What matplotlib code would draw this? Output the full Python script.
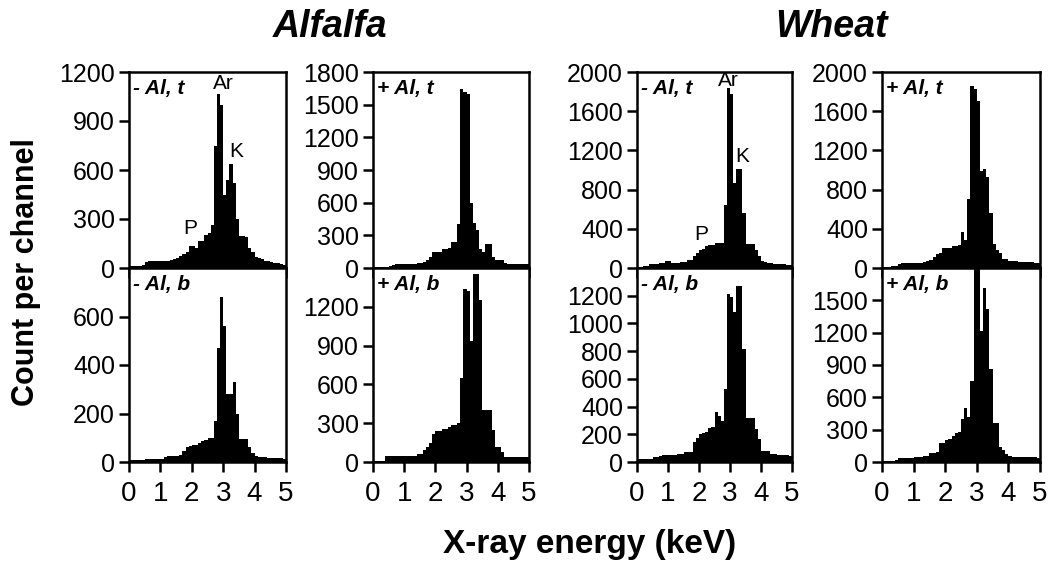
import matplotlib
matplotlib.use('Agg')
import matplotlib.pyplot as plt

plt.rcParams['font.family'] = ['Liberation Sans', 'DejaVu Sans']

# ---- data (bin centres in keV, 0.1 keV channels) ----
energy_keV = [0.05, 0.15, 0.25, 0.35, 0.45, 0.55, 0.65, 0.75, 0.85, 0.95,
              1.05, 1.15, 1.25, 1.35, 1.45, 1.55, 1.65, 1.75, 1.85, 1.95,
              2.05, 2.15, 2.25, 2.35, 2.45, 2.55, 2.65, 2.75, 2.85, 2.95,
              3.05, 3.15, 3.25, 3.35, 3.45, 3.55, 3.65, 3.75, 3.85, 3.95,
              4.05, 4.15, 4.25, 4.35, 4.45, 4.55, 4.65, 4.75, 4.85, 4.95]

alfalfa_minus_t = [15, 15, 15, 15, 20, 35, 40, 40, 40, 40,
                   40, 45, 45, 50, 55, 60, 75, 85, 95, 135,
                   135, 125, 165, 165, 200, 215, 265, 750, 1065, 1000,
                   450, 540, 636, 520, 300, 195, 195, 190, 120, 100,
                   70, 60, 55, 45, 40, 35, 30, 30, 25, 20]
alfalfa_plus_t = [10, 10, 10, 10, 10, 15, 30, 35, 35, 35,
                  35, 35, 35, 40, 45, 50, 55, 70, 100, 150,
                  150, 150, 175, 175, 180, 240, 240, 400, 1645, 1620,
                  1600, 600, 409, 350, 176, 150, 225, 225, 100, 75,
                  75, 75, 45, 40, 40, 40, 40, 40, 40, 40]
wheat_minus_t = [15, 15, 20, 20, 40, 45, 45, 50, 50, 70,
                 70, 55, 55, 55, 60, 60, 85, 85, 120, 155,
                 185, 190, 220, 230, 235, 255, 255, 260, 640, 1836,
                 1780, 870, 1008, 1008, 564, 240, 240, 240, 180, 120,
                 70, 60, 50, 50, 45, 45, 40, 40, 35, 30]
wheat_plus_t = [15, 15, 15, 20, 25, 40, 50, 50, 50, 50,
                50, 55, 55, 60, 75, 80, 110, 145, 150, 200,
                200, 200, 220, 225, 230, 370, 285, 700, 1857, 1830,
                1700, 985, 1010, 930, 560, 250, 181, 150, 96, 96,
                75, 70, 70, 65, 65, 60, 60, 60, 55, 50]
alfalfa_minus_b = [8, 8, 8, 8, 8, 14, 14, 14, 14, 14,
                   14, 20, 24, 24, 24, 24, 28, 44, 60, 65,
                   70, 72, 80, 86, 90, 100, 100, 168, 470, 679,
                   560, 280, 279, 330, 200, 95, 93, 93, 60, 37,
                   25, 22, 20, 20, 18, 18, 15, 15, 15, 12]
alfalfa_plus_b = [8, 8, 8, 8, 46, 46, 46, 46, 46, 46,
                  46, 46, 46, 46, 64, 64, 90, 116, 150, 220,
                  240, 240, 257, 257, 270, 283, 283, 300, 650, 1337,
                  1320, 938, 1452, 1452, 1250, 404, 404, 404, 244, 116,
                  116, 77, 38, 38, 38, 38, 38, 38, 38, 38]
wheat_minus_b = [19, 19, 19, 19, 25, 35, 35, 40, 47, 47,
                 47, 47, 50, 55, 60, 70, 72, 75, 141, 170,
                 205, 210, 215, 247, 250, 364, 330, 294, 530, 1210,
                 1190, 1082, 1271, 1271, 812, 318, 318, 318, 240, 166,
                 82, 82, 82, 60, 55, 50, 50, 47, 47, 45]
wheat_plus_b = [9, 9, 9, 9, 15, 35, 40, 40, 40, 40,
                45, 45, 50, 55, 60, 80, 84, 90, 172, 180,
                203, 210, 240, 266, 280, 400, 500, 420, 750, 2000,
                2000, 1219, 1610, 1422, 860, 360, 360, 140, 110, 70,
                55, 50, 50, 50, 50, 50, 50, 45, 45, 40]

x_ticks = [0, 1, 2, 3, 4, 5]
crop_titles = ['Alfalfa', 'Wheat']
panel_labels = ['- Al, t', '+ Al, t', '- Al, t', '+ Al, t',
                '- Al, b', '+ Al, b', '- Al, b', '+ Al, b']
y_max = [1200, 1800, 2000, 2000, 800, 1500, 1400, 1800]
y_ticks = [[0, 300, 600, 900, 1200],
           [0, 300, 600, 900, 1200, 1500, 1800],
           [0, 400, 800, 1200, 1600, 2000],
           [0, 400, 800, 1200, 1600, 2000],
           [0, 200, 400, 600],
           [0, 300, 600, 900, 1200],
           [0, 200, 400, 600, 800, 1000, 1200],
           [0, 300, 600, 900, 1200, 1500]]
series = [alfalfa_minus_t, alfalfa_plus_t, wheat_minus_t, wheat_plus_t,
          alfalfa_minus_b, alfalfa_plus_b, wheat_minus_b, wheat_plus_b]
peak_names = ['Ar', 'K', 'P']
peak_pos_alfalfa = [(2.99, 1128), (3.41, 715), (1.95, 240)]
peak_pos_wheat = [(2.95, 1917), (3.38, 1137), (2.06, 342)]

# ---- layout (pixels) ----
W, H = 1053, 564
fig = plt.figure(figsize=(W / 100, H / 100), dpi=100)
cols = [(129, 286), (373, 529), (637, 792), (882, 1040)]
rows = [(72, 268), (268, 462)]

for i in range(8):
    r, c = divmod(i, 4)
    x0, x1 = cols[c]
    yt, yb = rows[r]
    ax = fig.add_axes([x0 / W, 1 - yb / H, (x1 - x0) / W, (yb - yt) / H])
    ax.bar(energy_keV, series[i], width=0.1, color='black',
           edgecolor='black', linewidth=0, antialiased=False)
    ax.set_xlim(0, 5)
    ax.set_ylim(0, y_max[i])
    ax.set_xticks(x_ticks)
    ax.set_yticks(y_ticks[i])
    for s in ax.spines.values():
        s.set_linewidth(1.8)
    ax.tick_params(axis='both', direction='out', length=7, width=1.8)
    ax.tick_params(axis='y', labelsize=18, pad=3)
    ax.tick_params(axis='x', labelsize=20, pad=7)
    if r == 0:
        ax.tick_params(axis='x', labelbottom=False)
    ax.text(0.025, 0.965, panel_labels[i], transform=ax.transAxes,
            ha='left', va='top', fontsize=15, fontweight='bold',
            fontstyle='italic')
    if i in (0, 2):
        pos = peak_pos_alfalfa if i == 0 else peak_pos_wheat
        for name, (px, py) in zip(peak_names, pos):
            ax.text(px, py, name, ha='center', va='center', fontsize=15,
                    clip_on=False)

fig.text(330 / W, 1 - 27 / H, crop_titles[0], ha='center', va='center',
         fontsize=27, fontweight='bold', fontstyle='italic')
fig.text(832 / W, 1 - 27 / H, crop_titles[1], ha='center', va='center',
         fontsize=27, fontweight='bold', fontstyle='italic')
fig.text(26 / W, 1 - 272 / H, 'Count per channel', rotation=90,
         ha='center', va='center', fontsize=22, fontweight='bold')
fig.text(590 / W, 1 - 545 / H, 'X-ray energy (keV)', ha='center',
         va='center', fontsize=24, fontweight='bold')

fig.savefig('out.png', dpi=100, facecolor='white')
